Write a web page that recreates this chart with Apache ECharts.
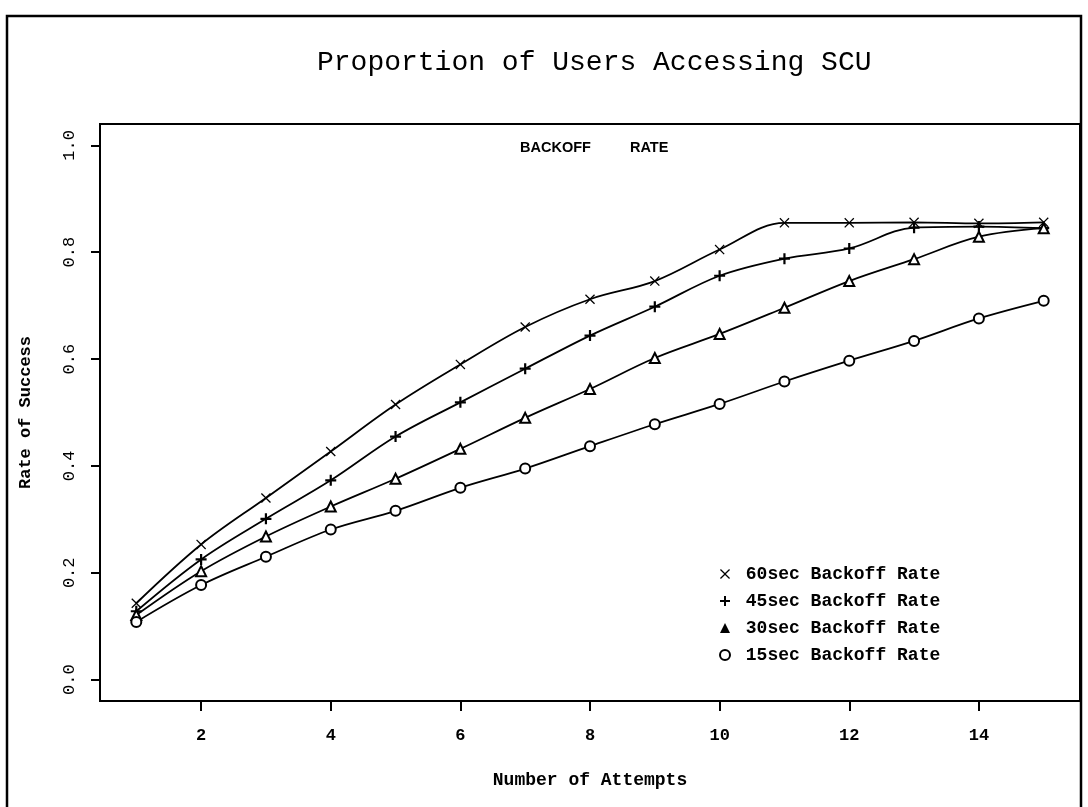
<!DOCTYPE html>
<html>
<head>
<meta charset="utf-8">
<script src="https://cdn.jsdelivr.net/npm/echarts@6/dist/echarts.min.js"></script>
<style>
  html, body { margin: 0; padding: 0; background: #fff; }
  #chart { width: 1088px; height: 807px; }
</style>
</head>
<body>
<div id="chart"></div>
<script>
// ---- data ----
const attempts = [1, 2, 3, 4, 5, 6, 7, 8, 9, 10, 11, 12, 13, 14, 15];
const rate60 = [0.143, 0.253, 0.340, 0.427, 0.515, 0.590, 0.660, 0.712, 0.746, 0.805, 0.855, 0.855, 0.856, 0.854, 0.856];
const rate45 = [0.128, 0.225, 0.301, 0.373, 0.455, 0.519, 0.582, 0.644, 0.698, 0.756, 0.788, 0.807, 0.846, 0.848, 0.845];
const rate30 = [0.121, 0.203, 0.268, 0.324, 0.376, 0.432, 0.490, 0.544, 0.602, 0.647, 0.696, 0.746, 0.787, 0.829, 0.845];
const rate15 = [0.108, 0.177, 0.230, 0.281, 0.316, 0.359, 0.395, 0.437, 0.478, 0.516, 0.558, 0.597, 0.634, 0.676, 0.709];
const seriesNames = ['60sec Backoff Rate', '45sec Backoff Rate', '30sec Backoff Rate', '15sec Backoff Rate'];
const xTicks = [2, 4, 6, 8, 10, 12, 14];
const yTicks = [0, 0.2, 0.4, 0.6, 0.8, 1.0];
const titleText = 'Proportion of Users Accessing SCU';
const subTitleWords = ['BACKOFF', 'RATE'];
const xName = 'Number of Attempts';
const yName = 'Rate of Success';

// ---- symbols ----
const SYM_X = 'path://M0,0.9 L0.9,0 L5,4.1 L9.1,0 L10,0.9 L5.9,5 L10,9.1 L9.1,10 L5,5.9 L0.9,10 L0,9.1 L4.1,5 Z';
const SYM_PLUS = 'path://M4,0 H6 V4 H10 V6 H6 V10 H4 V6 H0 V4 H4 Z';
const symbols = [SYM_X, SYM_PLUS, 'emptyTriangle', 'emptyCircle'];
const symSizes = [10, 11, 10, 10];
const allRates = [rate60, rate45, rate30, rate15];

const MONO = '"Liberation Mono", "DejaVu Sans Mono", monospace';
const SANS = '"Liberation Sans", Arial, sans-serif';

const chart = echarts.init(document.getElementById('chart'), null, { renderer: 'canvas' });

const series = allRates.map((vals, i) => ({
  name: seriesNames[i],
  type: 'line',
  data: attempts.map((x, k) => [x, vals[k]]),
  smooth: 0.35,
  symbol: symbols[i],
  symbolSize: symSizes[i],
  showAllSymbol: true,
  lineStyle: { color: '#000', width: 1.8 },
  itemStyle: { color: '#000', borderColor: '#000', borderWidth: i >= 2 ? 1.8 : 0 },
  emphasis: { disabled: true },
  z: 2 + i
}));

chart.setOption({
  animation: false,
  backgroundColor: '#fff',
  title: [
    {
      text: titleText,
      left: 312,
      top: 44,
      textStyle: { fontFamily: MONO, fontSize: 28, fontWeight: 'normal', color: '#000' }
    },
    {
      text: subTitleWords[0],
      left: 515,
      top: 135,
      textStyle: { fontFamily: SANS, fontSize: 14.5, fontWeight: 'bold', color: '#000' }
    },
    {
      text: subTitleWords[1],
      left: 625,
      top: 135,
      textStyle: { fontFamily: SANS, fontSize: 14.5, fontWeight: 'bold', color: '#000' }
    }
  ],
  legend: {
    orient: 'vertical',
    left: 714,
    top: 560,
    itemWidth: 10,
    itemHeight: 10,
    itemGap: 9,
    formatter: ' {name}',
    textStyle: { fontFamily: MONO, fontSize: 18, fontWeight: 'bold', color: '#000', lineHeight: 18 },
    data: seriesNames.map((n, i) => ({
      name: n,
      icon: i === 2 ? 'triangle' : (i === 3 ? 'emptyCircle' : symbols[i]),
      itemStyle: { color: '#000', borderColor: '#000', borderWidth: i === 3 ? 2 : 0 }
    })),
    selectedMode: false
  },
  graphic: [
    {
      type: 'rect',
      shape: { x: 7, y: 16, width: 1074, height: 810 },
      style: { fill: 'none', stroke: '#000', lineWidth: 2.5 },
      silent: true
    }
  ],
  grid: {
    left: 100, right: 8, top: 124, bottom: 106,
    show: true, borderColor: '#000', borderWidth: 2, backgroundColor: 'transparent'
  },
  xAxis: {
    type: 'value',
    min: 0.44,
    max: 15.56,
    name: xName,
    nameLocation: 'middle',
    nameGap: 70,
    nameTextStyle: { fontFamily: MONO, fontSize: 18, fontWeight: 'bold', color: '#000' },
    axisLine: { show: false, onZero: false },
    axisTick: { show: true, customValues: xTicks, length: 10, lineStyle: { color: '#000', width: 2 } },
    axisLabel: {
      customValues: xTicks,
      margin: 26,
      fontFamily: MONO, fontSize: 17, fontWeight: 'bold', color: '#000'
    },
    splitLine: { show: false }
  },
  yAxis: {
    type: 'value',
    min: -0.04,
    max: 1.04,
    name: yName,
    nameLocation: 'middle',
    nameGap: 66,
    nameTextStyle: { fontFamily: MONO, fontSize: 17, fontWeight: 'bold', color: '#000' },
    axisLine: { show: false, onZero: false },
    axisTick: { show: true, customValues: yTicks, length: 9, lineStyle: { color: '#000', width: 2 } },
    axisLabel: {
      customValues: yTicks,
      rotate: 90,
      margin: 22,
      formatter: v => v.toFixed(1),
      fontFamily: MONO, fontSize: 17, color: '#000'
    },
    splitLine: { show: false }
  },
  series: series
});
</script>
</body>
</html>
